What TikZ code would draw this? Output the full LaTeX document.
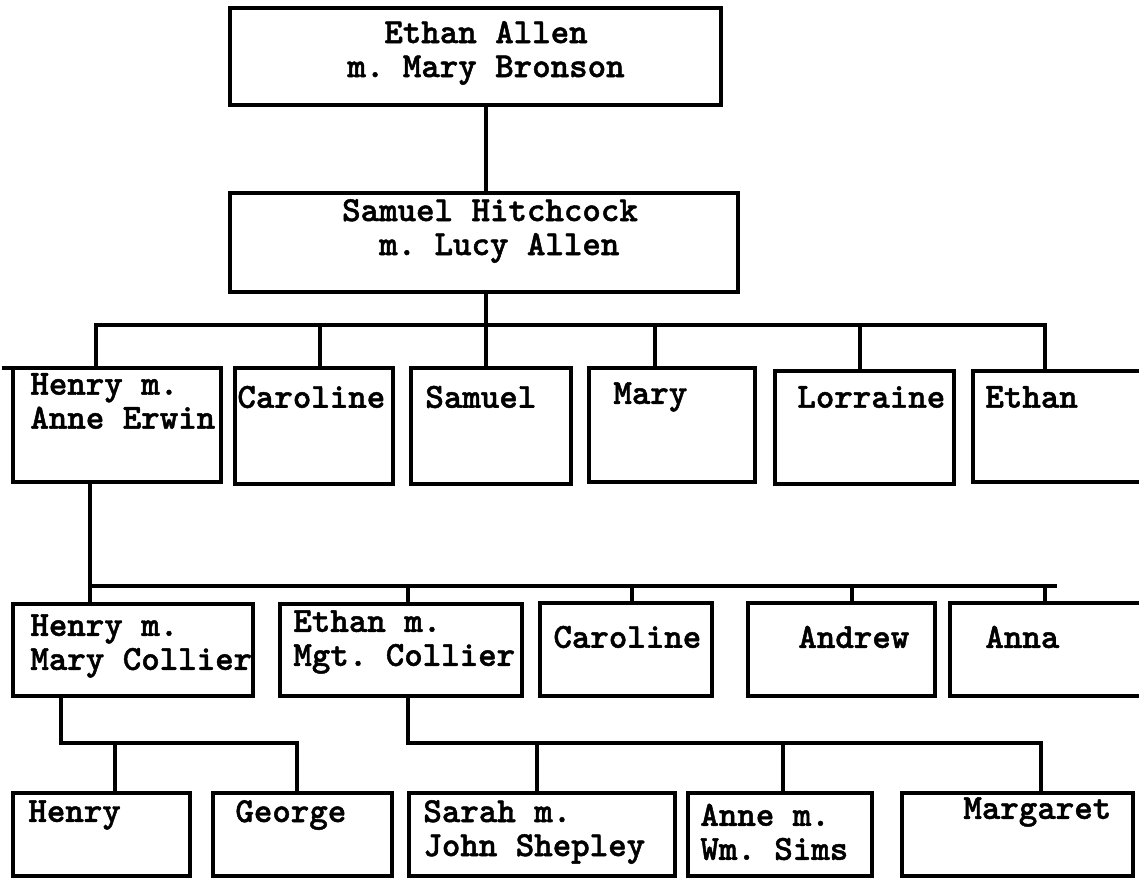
\documentclass[tikz,border=0pt]{standalone}
\usepackage{fontspec}
\setmonofont{lmmonolt10-bold.otf}[FakeBold=1.3]
\usetikzlibrary{calc}
\newcommand\bx[5]{\node[box, minimum width={(#4-#2)*0.5pt}, minimum height={(#5-#3)*0.5pt}] (#1) at (#2,#3) {};}
\begin{document}
\begin{tikzpicture}[x=0.5pt,y=-0.5pt,
  box/.style={draw, line width=2.3pt, rectangle, inner sep=0pt, outer sep=0pt, anchor=north west},
  txt/.style={font=\ttfamily\fontsize{17.6}{17}\selectfont, inner sep=0pt, align=left, anchor=west},
  ctxt/.style={txt, align=center, anchor=center},
  conn/.style={line width=2.3pt, line cap=rect}]
\fill[white] (0,0) rectangle (1139,879);
\clip (0,0) rectangle (1139,879);
% generation 1 and 2
\bx{top}{230}{8}{721}{105}
\node[ctxt] (topt) at (486,53) {Ethan Allen\\m. Mary Bronson};
\bx{sh}{230}{193}{738}{292}
\node[ctxt] (sht) at (490,231) {Samuel Hitchcock\\\ m. Lucy Allen};
% row 1
\bx{henryA}{13}{368}{221}{482}
\bx{carolineA}{235}{368}{393}{484}
\bx{samuelA}{411}{368}{571}{484}
\bx{maryA}{589}{368}{755}{482}
\bx{lorraineA}{775}{371}{954}{484}
\bx{ethanA}{973}{371}{1160}{482}
\coordinate (tick) at (4,368);
\draw[conn] (tick) -- (henryA.north west);
\node[txt] (henryAt) at (30,401) {Henry m.\\Anne Erwin};
\node[txt] (carolineAt) at (237,397) {Caroline};
\node[txt] (samuelAt) at (425,397) {Samuel};
\node[txt] (maryAt) at (613,397) {Mary};
\node[txt] (lorraineAt) at (797,397) {Lorraine};
\node[txt] (ethanAt) at (985,397) {Ethan};
% row 2
\bx{henryB}{13}{604}{253}{696}
\bx{ethanB}{280}{604}{522}{696}
\bx{carolineB}{540}{603}{712}{696}
\bx{andrewB}{748}{603}{935}{696}
\bx{annaB}{950}{603}{1160}{696}
\node[txt] (henryBt) at (30,646) {Henry m.\\Mary Collier};
\node[txt] (ethanBt) at (293,642) {Ethan m.\\Mgt. Collier};
\node[txt] (carolineBt) at (553,637) {Caroline};
\node[txt] (andrewBt) at (798,637) {Andrew};
\node[txt] (annaBt) at (985,637) {Anna};
% row 3
\bx{henryC}{13}{793}{190}{876}
\bx{georgeC}{213}{793}{392}{876}
\bx{sarahC}{409}{793}{675}{876}
\bx{anneC}{688}{793}{872}{876}
\bx{margaretC}{902}{793}{1133}{876}
\node[txt] (henryCt) at (28,815) {Henry};
\node[txt] (georgeCt) at (235,815) {George};
\node[txt] (sarahCt) at (423,832) {Sarah m.\\John Shepley};
\node[txt] (anneCt) at (700,832) {Anne m.\\Wm. Sims};
\node[txt] (margaretCt) at (963,812) {Margaret};
% connectors gen
\coordinate (j1) at (486,325);
\draw[conn] (top.south -| j1) -- (sh.north -| j1);
\draw[conn] (sh.south -| j1) -- (samuelA.north -| j1);
\coordinate (b1l) at (96,325);
\coordinate (b1r) at (1045,325);
\draw[conn] (henryA.north -| b1l) -- (b1l) -- (b1r) -- (ethanA.north -| b1r);
\coordinate (d1a) at (320,325);
\coordinate (d1b) at (655,325);
\coordinate (d1c) at (860,325);
\draw[conn] (d1a) -- (carolineA.north -| d1a);
\draw[conn] (d1b) -- (maryA.north -| d1b);
\draw[conn] (d1c) -- (lorraineA.north -| d1c);
% connectors row 2
\coordinate (b2l) at (90,586);
\coordinate (b2r) at (1055,586);
\draw[conn] (henryA.south -| b2l) -- (henryB.north -| b2l);
\draw[conn] (b2l) -- (b2r);
\coordinate (d2a) at (408,586);
\coordinate (d2b) at (632,586);
\coordinate (d2c) at (852,586);
\coordinate (d2d) at (1045,586);
\draw[conn] (d2a) -- (ethanB.north -| d2a);
\draw[conn] (d2b) -- (carolineB.north -| d2b);
\draw[conn] (d2c) -- (andrewB.north -| d2c);
\draw[conn] (d2d) -- (annaB.north -| d2d);
% connectors row 3
\coordinate (b3l) at (61,743);
\coordinate (b3r) at (297,743);
\draw[conn] (henryB.south -| b3l) -- (b3l) -- (b3r) -- (georgeC.north -| b3r);
\coordinate (d3a) at (115,743);
\draw[conn] (d3a) -- (henryC.north -| d3a);
\coordinate (b4l) at (408,743);
\coordinate (b4r) at (1041,743);
\draw[conn] (ethanB.south -| b4l) -- (b4l) -- (b4r) -- (margaretC.north -| b4r);
\coordinate (d4a) at (537,743);
\coordinate (d4b) at (783,743);
\draw[conn] (d4a) -- (sarahC.north -| d4a);
\draw[conn] (d4b) -- (anneC.north -| d4b);
\end{tikzpicture}
\end{document}
